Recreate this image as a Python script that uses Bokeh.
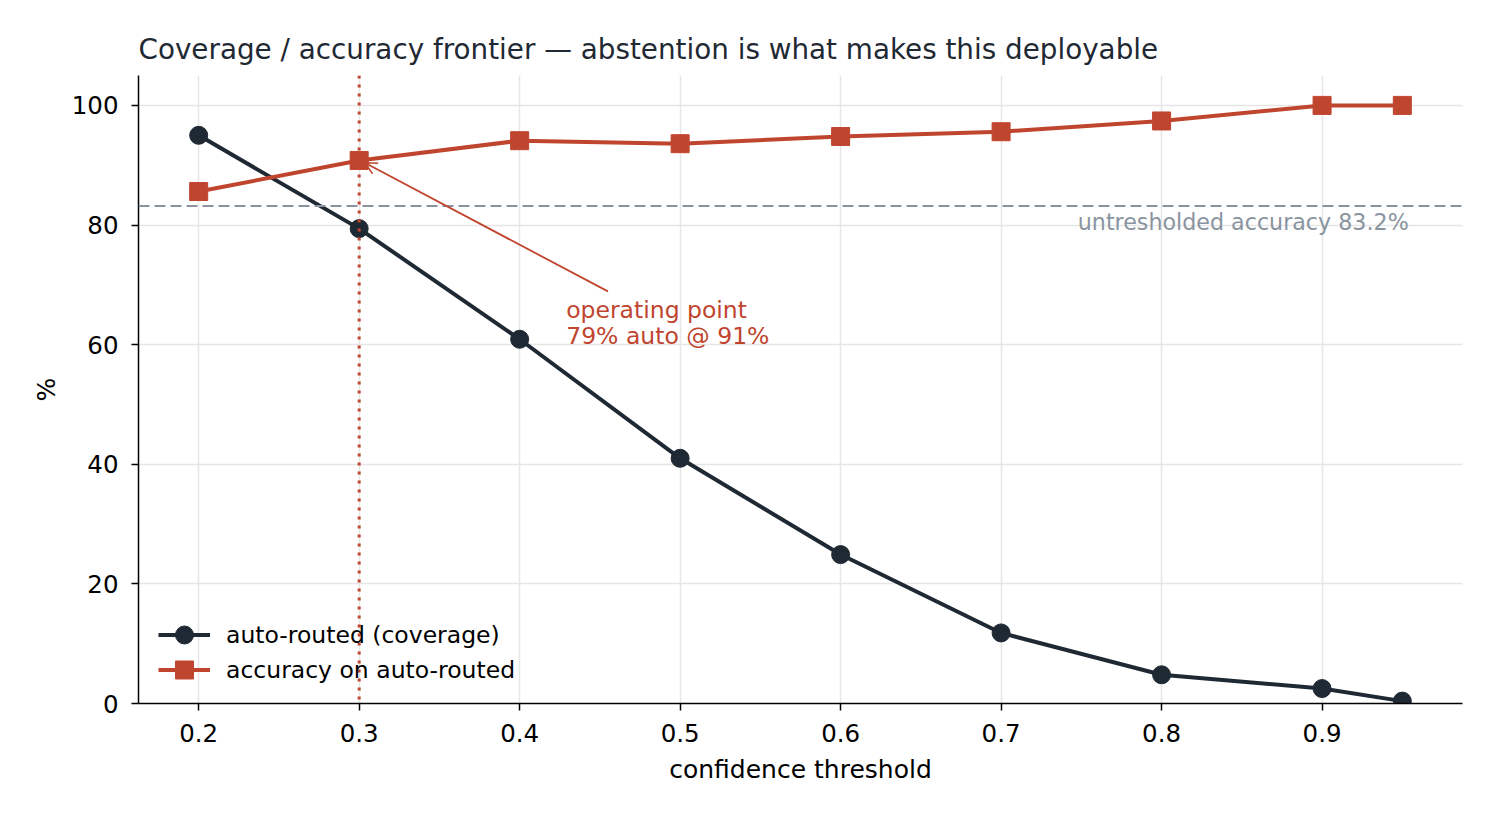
from bokeh.plotting import figure
from bokeh.models import Span, Label, Arrow, OpenHead, Legend, LegendItem, FixedTicker, Range1d
from bokeh.embed import file_html
from bokeh.resources import INLINE

thresholds = [0.2, 0.3, 0.4, 0.5, 0.6, 0.7, 0.8, 0.9, 0.95]
coverage = [95.0, 79.4, 60.9, 41.0, 24.9, 11.8, 4.8, 2.5, 0.4]
accuracy = [85.6, 90.8, 94.1, 93.6, 94.8, 95.6, 97.4, 100.0, 100.0]
x_ticks = [0.2, 0.3, 0.4, 0.5, 0.6, 0.7, 0.8, 0.9]
y_ticks = [0, 20, 40, 60, 80, 100]
baseline_acc = 83.2
operating_threshold = 0.3
operating_cov = 79
operating_acc = 91

FONT = "DejaVu Sans"
DARK = "#1f2933"
RED = "#c0452f"
GREY = "#8a94a0"

p = figure(width=1498, height=818, output_backend="svg", toolbar_location=None,
           x_range=Range1d(0.1625, 0.9875), y_range=Range1d(0, 105),
           min_border_left=138, min_border_right=36, min_border_top=75, min_border_bottom=115)
p.outline_line_color = None
p.background_fill_color = "white"

p.title.text = "Coverage / accuracy frontier \u2014 abstention is what makes this deployable"
p.title.text_font = FONT
p.title.text_font_size = "27.8px"
p.title.text_font_style = "normal"
p.title.text_color = DARK
p.title.align = "left"
p.title.standoff = 20

for ax in (p.xaxis[0], p.yaxis[0]):
    ax.axis_line_color = "black"
    ax.axis_line_width = 1.5
    ax.major_tick_line_color = "black"
    ax.major_tick_line_width = 1.5
    ax.major_tick_out = 7
    ax.major_tick_in = 0
    ax.minor_tick_line_color = None
    ax.major_label_text_font = FONT
    ax.major_label_text_font_size = "24.5px"
    ax.major_label_text_color = "black"
    ax.axis_label_text_font = FONT
    ax.axis_label_text_font_size = "25px"
    ax.axis_label_text_font_style = "normal"
    ax.axis_label_text_color = "black"

p.xaxis.ticker = FixedTicker(ticks=x_ticks)
p.yaxis.ticker = FixedTicker(ticks=y_ticks)
p.xaxis.axis_label = "confidence threshold"
p.yaxis.axis_label = "%"
p.xaxis.major_label_standoff = 13
p.yaxis.major_label_standoff = 13
p.xaxis.axis_label_standoff = 10
p.yaxis.axis_label_standoff = 8

p.xgrid.grid_line_color = "#e6e6e6"
p.ygrid.grid_line_color = "#e6e6e6"
p.xgrid.grid_line_width = 1.5
p.ygrid.grid_line_width = 1.5

p.add_layout(Span(location=baseline_acc, dimension="width", line_color=GREY,
                  line_width=2, line_dash="11 5"))
p.add_layout(Span(location=operating_threshold, dimension="height", line_color=RED,
                  line_width=3, line_dash="3 6"))

l1 = p.line(thresholds, coverage, line_color=DARK, line_width=4)
s1 = p.scatter(thresholds, coverage, marker="circle", size=18, fill_color=DARK, line_color=DARK)
l2 = p.line(thresholds, accuracy, line_color=RED, line_width=4)
s2 = p.scatter(thresholds, accuracy, marker="square", size=18, fill_color=RED, line_color=RED)

p.add_layout(Label(x=0.954, y=82.6, text=f"untresholded accuracy {baseline_acc}%",
                   text_align="right", text_baseline="top", text_color=GREY,
                   text_font=FONT, text_font_size="22.2px"))

p.add_layout(Arrow(end=OpenHead(size=12, line_color=RED, line_width=1.5),
                   x_start=0.455, y_start=68.9, x_end=0.3035, y_end=90.4,
                   line_color=RED, line_width=1.8))
p.add_layout(Label(x=0.429, y=65.8, text="operating point",
                   text_align="left", text_baseline="middle", text_color=RED,
                   text_font=FONT, text_font_size="23.5px"))
p.add_layout(Label(x=0.429, y=61.5, text=f"{operating_cov}% auto @ {operating_acc}%",
                   text_align="left", text_baseline="middle", text_color=RED,
                   text_font=FONT, text_font_size="23.5px"))

legend_kw = dict(glyph_width=52, glyph_height=45, label_standoff=16,
                 spacing=0, padding=10, border_line_alpha=0, background_fill_alpha=0,
                 label_text_font=FONT, label_text_font_size="23.5px", label_text_color="black",
                 label_height=45)
legend_cov = Legend(items=[LegendItem(label="auto-routed (coverage)", renderers=[l1, s1])],
                    location=(10, 36), **legend_kw)
legend_acc = Legend(items=[LegendItem(label="accuracy on auto-routed", renderers=[l2, s2])],
                    location=(10, 1), **legend_kw)
p.add_layout(legend_cov)
p.add_layout(legend_acc)

open("out.html", "w").write(file_html(p, INLINE))
